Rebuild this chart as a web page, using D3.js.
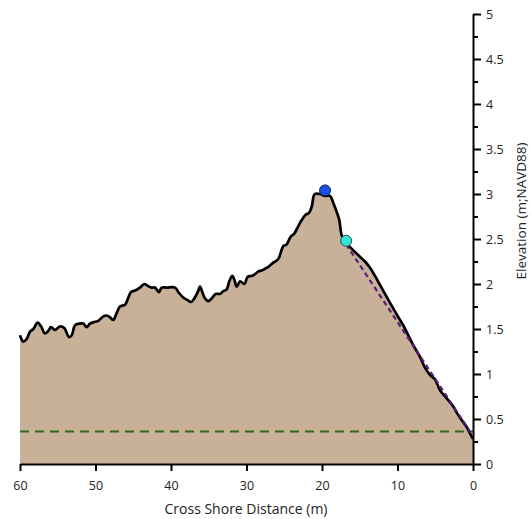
<!DOCTYPE html>
<html>
<head>
<meta charset="utf-8">
<script src="https://cdn.jsdelivr.net/npm/d3@7"></script>
<style>
  body { margin: 0; background: #fff; }
  svg { display: block; }
  text { font-family: "Open Sans", "Liberation Sans", sans-serif; fill: #222; }
</style>
</head>
<body>
<svg id="chart" width="531" height="519"></svg>
<script>
// Cross-shore profile: distance from shoreline (m) and elevation (m, NAVD88)
const distance = [60.0, 59.56, 59.11, 58.68, 58.24, 57.66, 57.22, 56.69, 56.25, 55.89, 55.36, 54.70, 54.13, 53.51, 53.15, 52.72, 52.15, 51.62, 51.17, 50.73, 50.07, 49.63, 48.97, 48.52, 48.08, 47.64, 47.19, 46.75, 46.09, 45.74, 45.30, 44.68, 44.11, 43.54, 43.09, 42.56, 42.12, 41.59, 41.23, 40.57, 39.47, 38.94, 38.37, 37.79, 37.35, 36.91, 36.46, 36.16, 35.85, 35.50, 35.06, 34.61, 34.08, 33.51, 33.07, 32.62, 32.28, 31.88, 31.62, 31.30, 30.86, 30.29, 29.84, 29.31, 28.87, 28.44, 27.99, 27.55, 27.11, 26.58, 26.00, 25.70, 25.43, 25.13, 24.68, 24.37, 24.11, 23.67, 23.22, 22.69, 22.16, 21.72, 21.36, 21.10, 20.93, 20.26, 19.60, 18.94, 18.50, 18.05, 17.71, 17.39, 16.95, 16.29, 15.19, 14.30, 13.64, 12.98, 12.32, 10.99, 9.67, 9.23, 8.57, 7.91, 7.02, 6.36, 5.70, 5.03, 4.37, 3.48, 2.61, 2.08, 1.50, 0.83, 0.40, 0.00];
const elevation = [1.43, 1.36, 1.39, 1.47, 1.50, 1.57, 1.53, 1.45, 1.48, 1.52, 1.49, 1.53, 1.51, 1.41, 1.43, 1.54, 1.56, 1.56, 1.52, 1.56, 1.58, 1.59, 1.64, 1.65, 1.63, 1.60, 1.68, 1.75, 1.77, 1.83, 1.91, 1.93, 1.96, 2.00, 1.98, 1.96, 1.96, 1.91, 1.96, 1.96, 1.96, 1.90, 1.85, 1.82, 1.80, 1.84, 1.91, 1.97, 1.91, 1.84, 1.81, 1.84, 1.89, 1.89, 1.92, 1.94, 2.03, 2.09, 2.05, 1.97, 2.03, 2.00, 2.08, 2.09, 2.11, 2.14, 2.15, 2.17, 2.19, 2.23, 2.26, 2.29, 2.36, 2.42, 2.44, 2.49, 2.53, 2.56, 2.63, 2.71, 2.77, 2.79, 2.86, 2.98, 3.00, 3.00, 2.98, 2.98, 2.90, 2.80, 2.71, 2.54, 2.47, 2.41, 2.32, 2.25, 2.18, 2.09, 1.99, 1.79, 1.60, 1.54, 1.43, 1.32, 1.19, 1.07, 0.99, 0.94, 0.82, 0.73, 0.64, 0.56, 0.49, 0.41, 0.34, 0.28];

// Dune crest and dune toe markers
const crest = [19.6, 3.04];
const toe = [16.8, 2.48];
// Fitted foreshore slope from the dune toe to the shoreline
const slopeDistance = [16.8, 0.0];
const slopeElevation = [2.44, 0.31];
// Reference water level
const waterLevel = 0.36;

const xTicks = [60, 50, 40, 30, 20, 10, 0];
const yTicks = [0, 0.5, 1, 1.5, 2, 2.5, 3, 3.5, 4, 4.5, 5];
const yMinorTicks = [0.25, 0.75, 1.25, 1.75, 2.25, 2.75, 3.25, 3.75, 4.25, 4.75];

const svg = d3.select("#chart");
const x = d3.scaleLinear().domain([60, 0]).range([20, 473]);
const y = d3.scaleLinear().domain([0, 5]).range([464, 14]);

const profile = distance.map((d, i) => ({ d, e: elevation[i] }));

// Sediment fill under the profile
svg.append("path")
  .datum(profile)
  .attr("fill", "#c9b099")
  .attr("d", d3.area().x(p => x(p.d)).y0(y(0)).y1(p => y(p.e)).curve(d3.curveCatmullRom.alpha(0.5)));

// Water level
svg.append("line")
  .attr("x1", x(60)).attr("x2", x(0))
  .attr("y1", y(waterLevel)).attr("y2", y(waterLevel))
  .attr("stroke", "#2f6b1f").attr("stroke-width", 2)
  .attr("stroke-dasharray", "9,6");

// Profile line
svg.append("path")
  .datum(profile)
  .attr("fill", "none")
  .attr("stroke", "#000")
  .attr("stroke-width", 2.7)
  .attr("stroke-linejoin", "round")
  .attr("d", d3.line().x(p => x(p.d)).y(p => y(p.e)).curve(d3.curveCatmullRom.alpha(0.5)));

// Foreshore slope
svg.append("line")
  .attr("x1", x(slopeDistance[0])).attr("y1", y(slopeElevation[0]))
  .attr("x2", x(slopeDistance[1])).attr("y2", y(slopeElevation[1]))
  .attr("stroke", "#581c7c").attr("stroke-width", 2.2)
  .attr("stroke-dasharray", "5,3.5");

// Markers
svg.append("circle")
  .attr("cx", x(crest[0])).attr("cy", y(crest[1])).attr("r", 5.5)
  .attr("fill", "#1b4fe8").attr("stroke", "#10205a").attr("stroke-width", 1);
svg.append("circle")
  .attr("cx", x(toe[0])).attr("cy", y(toe[1])).attr("r", 5.5)
  .attr("fill", "#36e3d8").attr("stroke", "#1a5a58").attr("stroke-width", 1);

// X axis
const xAxis = svg.append("g").attr("transform", `translate(0,${y(0)})`)
  .call(d3.axisBottom(x).tickValues(xTicks).tickSize(7).tickSizeOuter(0).tickPadding(10).tickFormat(d3.format("d")));
xAxis.select(".domain").attr("stroke", "#000").attr("stroke-width", 2);
xAxis.selectAll(".tick line").attr("stroke", "#000").attr("stroke-width", 2);
xAxis.selectAll(".tick text").style("font-size", "12.5px").attr("fill", "#222");

// Y axis (right side)
const yMinor = svg.append("g").attr("transform", `translate(${x(0)},0)`)
  .call(d3.axisRight(y).tickValues(yMinorTicks).tickSize(5).tickSizeOuter(0).tickFormat(""));
yMinor.select(".domain").remove();
yMinor.selectAll(".tick line").attr("stroke", "#000").attr("stroke-width", 2);

const yAxis = svg.append("g").attr("transform", `translate(${x(0)},0)`)
  .call(d3.axisRight(y).tickValues(yTicks).tickSize(8).tickSizeOuter(0).tickPadding(5).tickFormat(d3.format("")));
yAxis.select(".domain").attr("stroke", "#000").attr("stroke-width", 2);
yAxis.selectAll(".tick line").attr("stroke", "#000").attr("stroke-width", 2);
yAxis.selectAll(".tick text").style("font-size", "12.5px").attr("fill", "#222");

// Axis titles
svg.append("text")
  .attr("x", 246).attr("y", 514)
  .attr("text-anchor", "middle")
  .style("font-size", "14px")
  .text("Cross Shore Distance (m)");

svg.append("text")
  .attr("transform", "translate(526,211) rotate(-90)")
  .attr("text-anchor", "middle")
  .style("font-size", "13.5px")
  .text("Elevation (m;NAVD88)");
</script>
</body>
</html>
